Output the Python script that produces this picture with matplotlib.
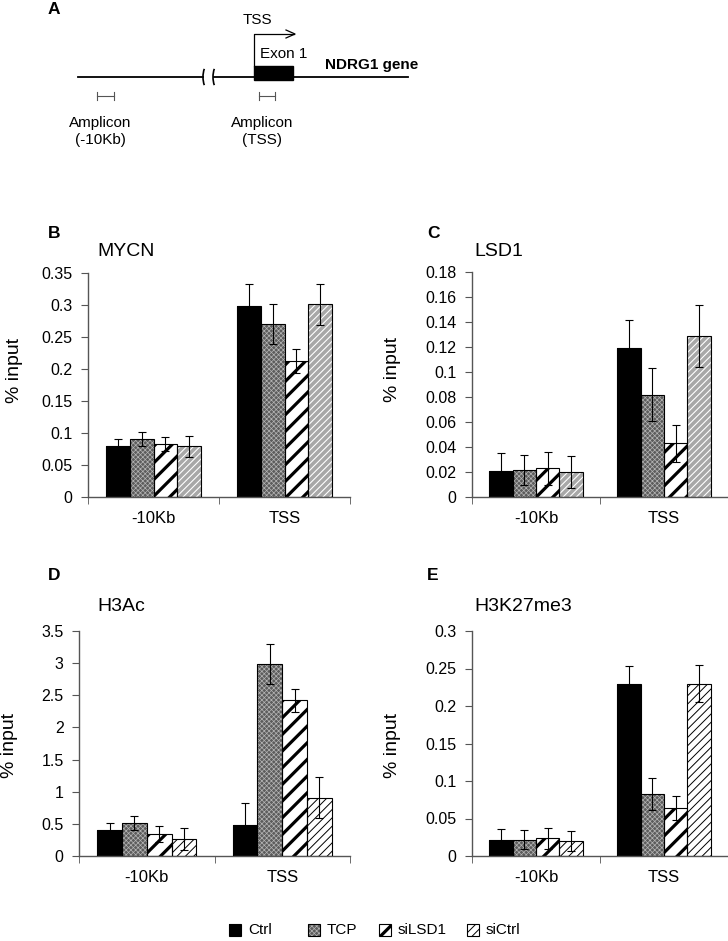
import matplotlib
matplotlib.use("Agg")
import matplotlib.pyplot as plt
from matplotlib.patches import Rectangle, Arc

plt.rcParams['font.family'] = ['Liberation Sans', 'DejaVu Sans']

# data
regions = ["-10Kb", "TSS"]
series = ["Ctrl", "TCP", "siLSD1", "siCtrl"]

mycn_vals = {"Ctrl": [0.080, 0.299], "TCP": [0.091, 0.270], "siLSD1": [0.083, 0.212], "siCtrl": [0.079, 0.301]}
mycn_errs = {"Ctrl": [0.011, 0.034], "TCP": [0.011, 0.031], "siLSD1": [0.011, 0.019], "siCtrl": [0.017, 0.032]}

lsd1_vals = {"Ctrl": [0.021, 0.119], "TCP": [0.022, 0.082], "siLSD1": [0.023, 0.043], "siCtrl": [0.020, 0.129]}
lsd1_errs = {"Ctrl": [0.014, 0.023], "TCP": [0.012, 0.021], "siLSD1": [0.013, 0.015], "siCtrl": [0.013, 0.025]}

h3ac_vals = {"Ctrl": [0.41, 0.49], "TCP": [0.51, 2.99], "siLSD1": [0.34, 2.42], "siCtrl": [0.26, 0.91]}
h3ac_errs = {"Ctrl": [0.11, 0.34], "TCP": [0.11, 0.31], "siLSD1": [0.12, 0.18], "siCtrl": [0.17, 0.32]}

k27_vals = {"Ctrl": [0.022, 0.230], "TCP": [0.022, 0.083], "siLSD1": [0.024, 0.064], "siCtrl": [0.020, 0.230]}
k27_errs = {"Ctrl": [0.014, 0.023], "TCP": [0.013, 0.021], "siLSD1": [0.014, 0.016], "siCtrl": [0.013, 0.025]}

W, H = 728, 941


def styles(grey_ctrl):
    # face, hatch colour, hatch, hatch linewidth
    st = {
        "Ctrl": ("black", "black", None, 1.0),
        "TCP": ("#5c5c5c", "#b4b4b4", "xxxxxxx", 0.5),
        "siLSD1": ("white", "black", "//", 2.3),
        "siCtrl": ("white", "black", "////", 0.7),
    }
    if grey_ctrl:
        st["siCtrl"] = ("#a8a8a8", "white", "/////", 0.8)
    return st


def make_patch(x, y, w, h, face, hcol, hatch, hlw):
    with plt.rc_context({'hatch.linewidth': hlw}):
        p = Rectangle((x, y), w, h, facecolor=face, edgecolor=hcol,
                      hatch=hatch, linewidth=0)
    if hasattr(p, "set_hatch_linewidth"):
        p.set_hatch_linewidth(hlw)
    return p


def fmt_num(t):
    s = ("%.2f" % t).rstrip("0").rstrip(".")
    return s if s else "0"


def panel(rect, vals, errs, ymax, ystep, title, letter, grey_ctrl, lab_y):
    left, top, right, bottom = rect
    ax = fig.add_axes([left / W, 1 - bottom / H, (right - left) / W, (bottom - top) / H])
    st = styles(grey_ctrl)
    width = 0.183
    for i, s in enumerate(series):
        xs = [k + (i - 1.5) * width for k in range(len(regions))]
        face, hcol, hatch, hlw = st[s]
        for x, v in zip(xs, vals[s]):
            ax.add_patch(make_patch(x - width / 2, 0, width, v, face, hcol, hatch, hlw))
        ax.bar(xs, vals[s], width, fill=False, edgecolor="black", linewidth=0.8, zorder=3)
        ax.errorbar(xs, vals[s], yerr=errs[s], fmt="none", ecolor="black",
                    elinewidth=0.8, capsize=3, capthick=0.8, zorder=4)
    ax.set_xlim(-0.5, len(regions) - 0.5)
    ax.set_ylim(0, ymax)
    n = int(round(ymax / ystep))
    ticks = [i * ystep for i in range(n + 1)]
    ax.set_yticks(ticks)
    ax.set_yticklabels([fmt_num(t) for t in ticks], fontsize=11.5)
    ax.set_xticks(range(len(regions)))
    ax.set_xticklabels(regions, fontsize=12)
    ax.set_xticks([k - 0.5 for k in range(len(regions) + 1)], minor=True)
    ax.tick_params(axis="x", which="major", length=0, pad=10)
    ax.tick_params(axis="x", which="minor", length=5, color="#555555", direction="out")
    ax.tick_params(axis="y", length=5, color="#555555", pad=6)
    for sp in ["top", "right"]:
        ax.spines[sp].set_visible(False)
    for sp in ["left", "bottom"]:
        ax.spines[sp].set_color("#555555")
        ax.spines[sp].set_linewidth(1.0)
    ax.set_ylabel("% input", fontsize=14, va="center")
    ax.yaxis.set_label_coords(lab_y[0], lab_y[1])
    ax.text(title[1], title[2], title[0], transform=ax.transAxes, fontsize=14,
            ha="left", va="center")
    fig.text(letter[1] / W, 1 - letter[2] / H, letter[0], fontsize=12.5,
             fontweight="bold", ha="left", va="center")
    return ax


fig = plt.figure(figsize=(7.28, 9.41), dpi=100)

panel((88, 273, 350, 497), mycn_vals, mycn_errs, 0.35, 0.05,
      ("MYCN", 0.034, 1.094), ("B", 48, 233), True, (-0.28, 0.567))
panel((472, 272, 728, 497), lsd1_vals, lsd1_errs, 0.18, 0.02,
      ("LSD1", 0.008, 1.089), ("C", 427, 233), True, (-0.31, 0.567))
panel((79, 631, 350, 856), h3ac_vals, h3ac_errs, 3.5, 0.5,
      ("H3Ac", 0.066, 1.111), ("D", 48, 575), False, (-0.255, 0.49))
panel((472, 631, 728, 856), k27_vals, k27_errs, 0.3, 0.05,
      ("H3K27me3", 0.008, 1.111), ("E", 427, 575), False, (-0.31, 0.49))

# panel A: gene schematic in pixel coordinates
sa = fig.add_axes([0, 1 - 190 / H, 1, 190 / H])
sa.set_xlim(0, W)
sa.set_ylim(190, 0)
sa.axis("off")
sa.plot([78, 203], [77, 77], color="black", lw=1.3)
sa.plot([214, 408], [77, 77], color="black", lw=1.3)
for cx in (210, 220):
    sa.add_patch(Arc((cx, 77), 14, 28, theta1=125, theta2=235, color="black", lw=1.2))
sa.add_patch(Rectangle((254, 66), 39, 14, facecolor="black", edgecolor="black"))
sa.plot([254, 254, 294], [66, 34, 34], color="black", lw=0.9)
sa.plot([286, 295, 286], [30, 34, 38], color="black", lw=0.9)
for x0, x1 in [(97, 114), (259, 275)]:
    sa.plot([x0, x1], [96, 96], color="#555555", lw=0.8)
    sa.plot([x0, x0], [92, 100], color="#555555", lw=0.8)
    sa.plot([x1, x1], [92, 100], color="#555555", lw=0.8)
sa.text(48, 10, "A", fontsize=12.5, fontweight="bold", ha="left", va="center")
sa.text(257, 20, "TSS", fontsize=11, ha="center", va="center")
sa.text(260, 54, "Exon 1", fontsize=11, ha="left", va="center")
sa.text(325, 65, "NDRG1 gene", fontsize=11, fontweight="bold", ha="left", va="center")
sa.text(100, 123, "Amplicon", fontsize=11, ha="center", va="center")
sa.text(100, 140, "(-10Kb)", fontsize=11, ha="center", va="center")
sa.text(262, 123, "Amplicon", fontsize=11, ha="center", va="center")
sa.text(262, 140, "(TSS)", fontsize=11, ha="center", va="center")

# legend, drawn as swatches so hatch widths match the bars
lg = fig.add_axes([0, 0, 1, 30 / H])
lg.set_xlim(0, W)
lg.set_ylim(H, H - 30)
lg.axis("off")
st = styles(False)
swatch_x = [229, 308, 379, 467]
for s, sx in zip(series, swatch_x):
    face, hcol, hatch, hlw = st[s]
    lg.add_patch(make_patch(sx, 924, 12, 12, face, hcol, hatch, hlw))
    lg.add_patch(Rectangle((sx, 924), 12, 12, fill=False, edgecolor="black", linewidth=0.8))
    lg.text(sx + 19, 930, s, fontsize=11, ha="left", va="center")

fig.savefig("out.png", dpi=100)
